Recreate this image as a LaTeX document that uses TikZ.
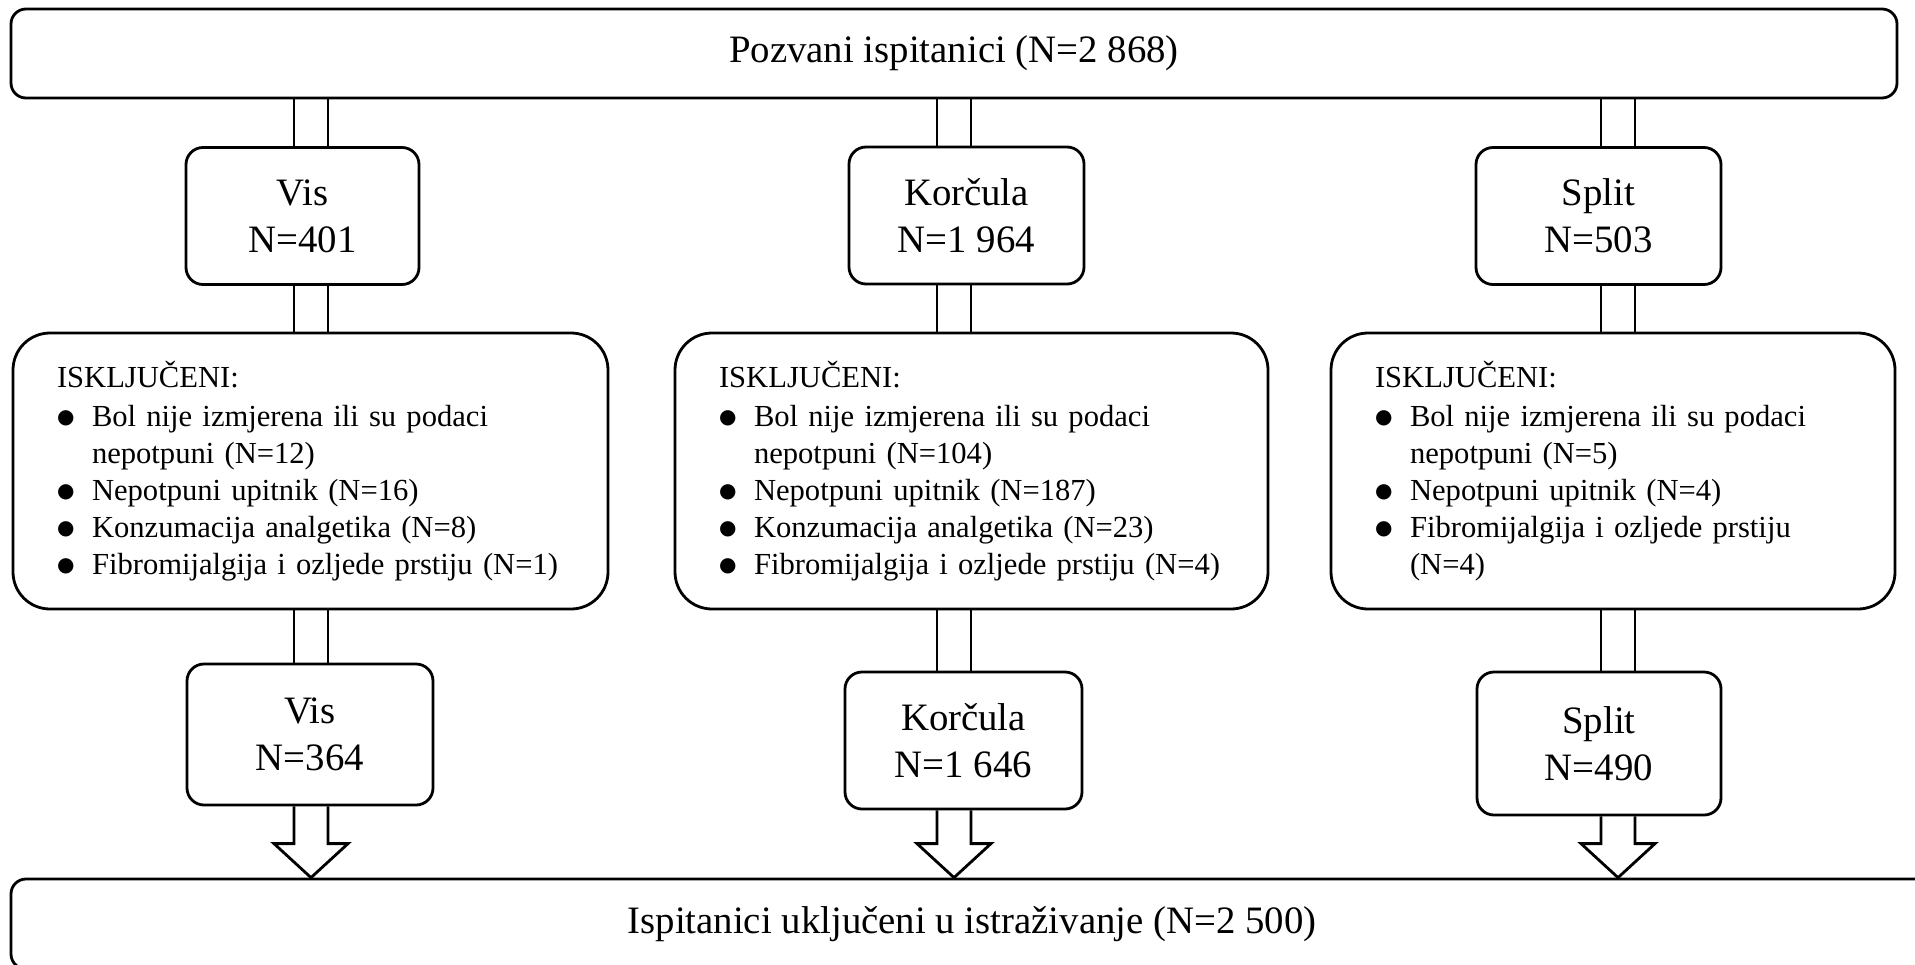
\documentclass[tikz,border=0pt]{standalone}
\usepackage{fontspec}
\setmainfont{Liberation Serif}
\newfontfamily\dotfont{DejaVu Sans}
\usetikzlibrary{calc}
\tikzset{every picture/.style={line width=1.4pt}}
\newcommand{\exitem}{\makebox[17.5pt][l]{\raisebox{1.6pt}{\fontsize{10}{10}\dotfont ●}}}
\newcommand{\excont}{\hspace*{17.5pt}}

\begin{document}
\begin{tikzpicture}[x=0.5pt,y=0.5pt,yscale=-1,xscale=1,
  wide/.style={draw, rounded corners=7.5pt, inner sep=0pt, font=\fontsize{19.4}{23.5}\selectfont},
  site/.style={draw, rounded corners=8.5pt, inner sep=0pt, align=center, minimum height=68.5pt, font=\fontsize{19.4}{23.5}\selectfont},
  excl/.style={draw, rounded corners=18.5pt, inner xsep=22pt, inner ysep=0pt, align=left, minimum height=138pt, font=\fontsize{15.3}{18.5}\selectfont}]
%set diagram size 1915 x 964
\useasboundingbox (0,0) rectangle (1915,964);
\clip (0,0) rectangle (1915,964);

% Text Node
\node[wide, minimum width=943pt, minimum height=44.5pt] (top) at (954,53.5) {Pozvani ispitanici (N=2 868)};
% Text Node
\node[site, minimum width=116.5pt] (vis1) at (302.5,216) {Vis\\N=401};
% Text Node
\node[site, minimum width=117.5pt] (kor1) at (966.5,215.5) {Korčula\\N=1 964};
% Text Node
\node[site, minimum width=122.5pt] (spl1) at (1598.5,216) {Split\\N=503};

%Shape: Rounded Rect
\node[excl, text width=253.5pt] (visx) at (310.5,471) {ISKLJUČENI:\\[1pt] \exitem Bol nije izmjerena ili su podaci\\ \excont nepotpuni (N=12)\\ \exitem Nepotpuni upitnik (N=16)\\ \exitem Konzumacija analgetika (N=8)\\ \exitem Fibromijalgija i ozljede prstiju (N=1)};
%Shape: Rounded Rect
\node[excl, text width=252.5pt] (korx) at (971.5,471) {ISKLJUČENI:\\[1pt] \exitem Bol nije izmjerena ili su podaci\\ \excont nepotpuni (N=104)\\ \exitem Nepotpuni upitnik (N=187)\\ \exitem Konzumacija analgetika (N=23)\\ \exitem Fibromijalgija i ozljede prstiju (N=4)};
%Shape: Rounded Rect
\node[excl, text width=238pt] (splx) at (1613,471) {ISKLJUČENI:\\[1pt] \exitem Bol nije izmjerena ili su podaci\\ \excont nepotpuni (N=5)\\ \exitem Nepotpuni upitnik (N=4)\\ \exitem Fibromijalgija i ozljede prstiju\\ \excont (N=4)};

% Text Node
\node[site, minimum width=123pt, minimum height=70.5pt] (vis2) at (310,734.5) {Vis\\N=364};
% Text Node
\node[site, minimum width=118.5pt] (kor2) at (963.5,740.5) {Korčula\\N=1 646};
% Text Node
\node[site, minimum width=122pt, minimum height=71.5pt] (spl2) at (1599,743.5) {Split\\N=490};

% Text Node
\node[wide, minimum width=961pt, minimum height=45pt] (bot) at (972,924) {Ispitanici uključeni u istraživanje (N=2 500)};

%column centres of the connectors
\coordinate (cv) at (311,0);
\coordinate (ck) at (954,0);
\coordinate (cs) at (1618,0);

%Straight Lines (double)
\foreach \c/\a/\b in {cv/top/vis1,cv/vis1/visx,cv/visx/vis2,ck/top/kor1,ck/kor1/korx,ck/korx/kor2,cs/top/spl1,cs/spl1/splx,cs/splx/spl2}
  \foreach \s in {-17,17}
    \draw ($(\c |- \a.south)+(\s,0)$) -- ($(\c |- \b.north)+(\s,0)$);

%Shape: Down Arrow
\foreach \c/\a in {cv/vis2,ck/kor2,cs/spl2}
  \draw ($(\c |- \a.south)+(-17,0)$) -- ($(\c |- bot.north)+(-17,-34)$) -- ($(\c |- bot.north)+(-37,-34)$) -- (\c |- bot.north) -- ($(\c |- bot.north)+(37,-34)$) -- ($(\c |- bot.north)+(17,-34)$) -- ($(\c |- \a.south)+(17,0)$);

\end{tikzpicture}
\end{document}
